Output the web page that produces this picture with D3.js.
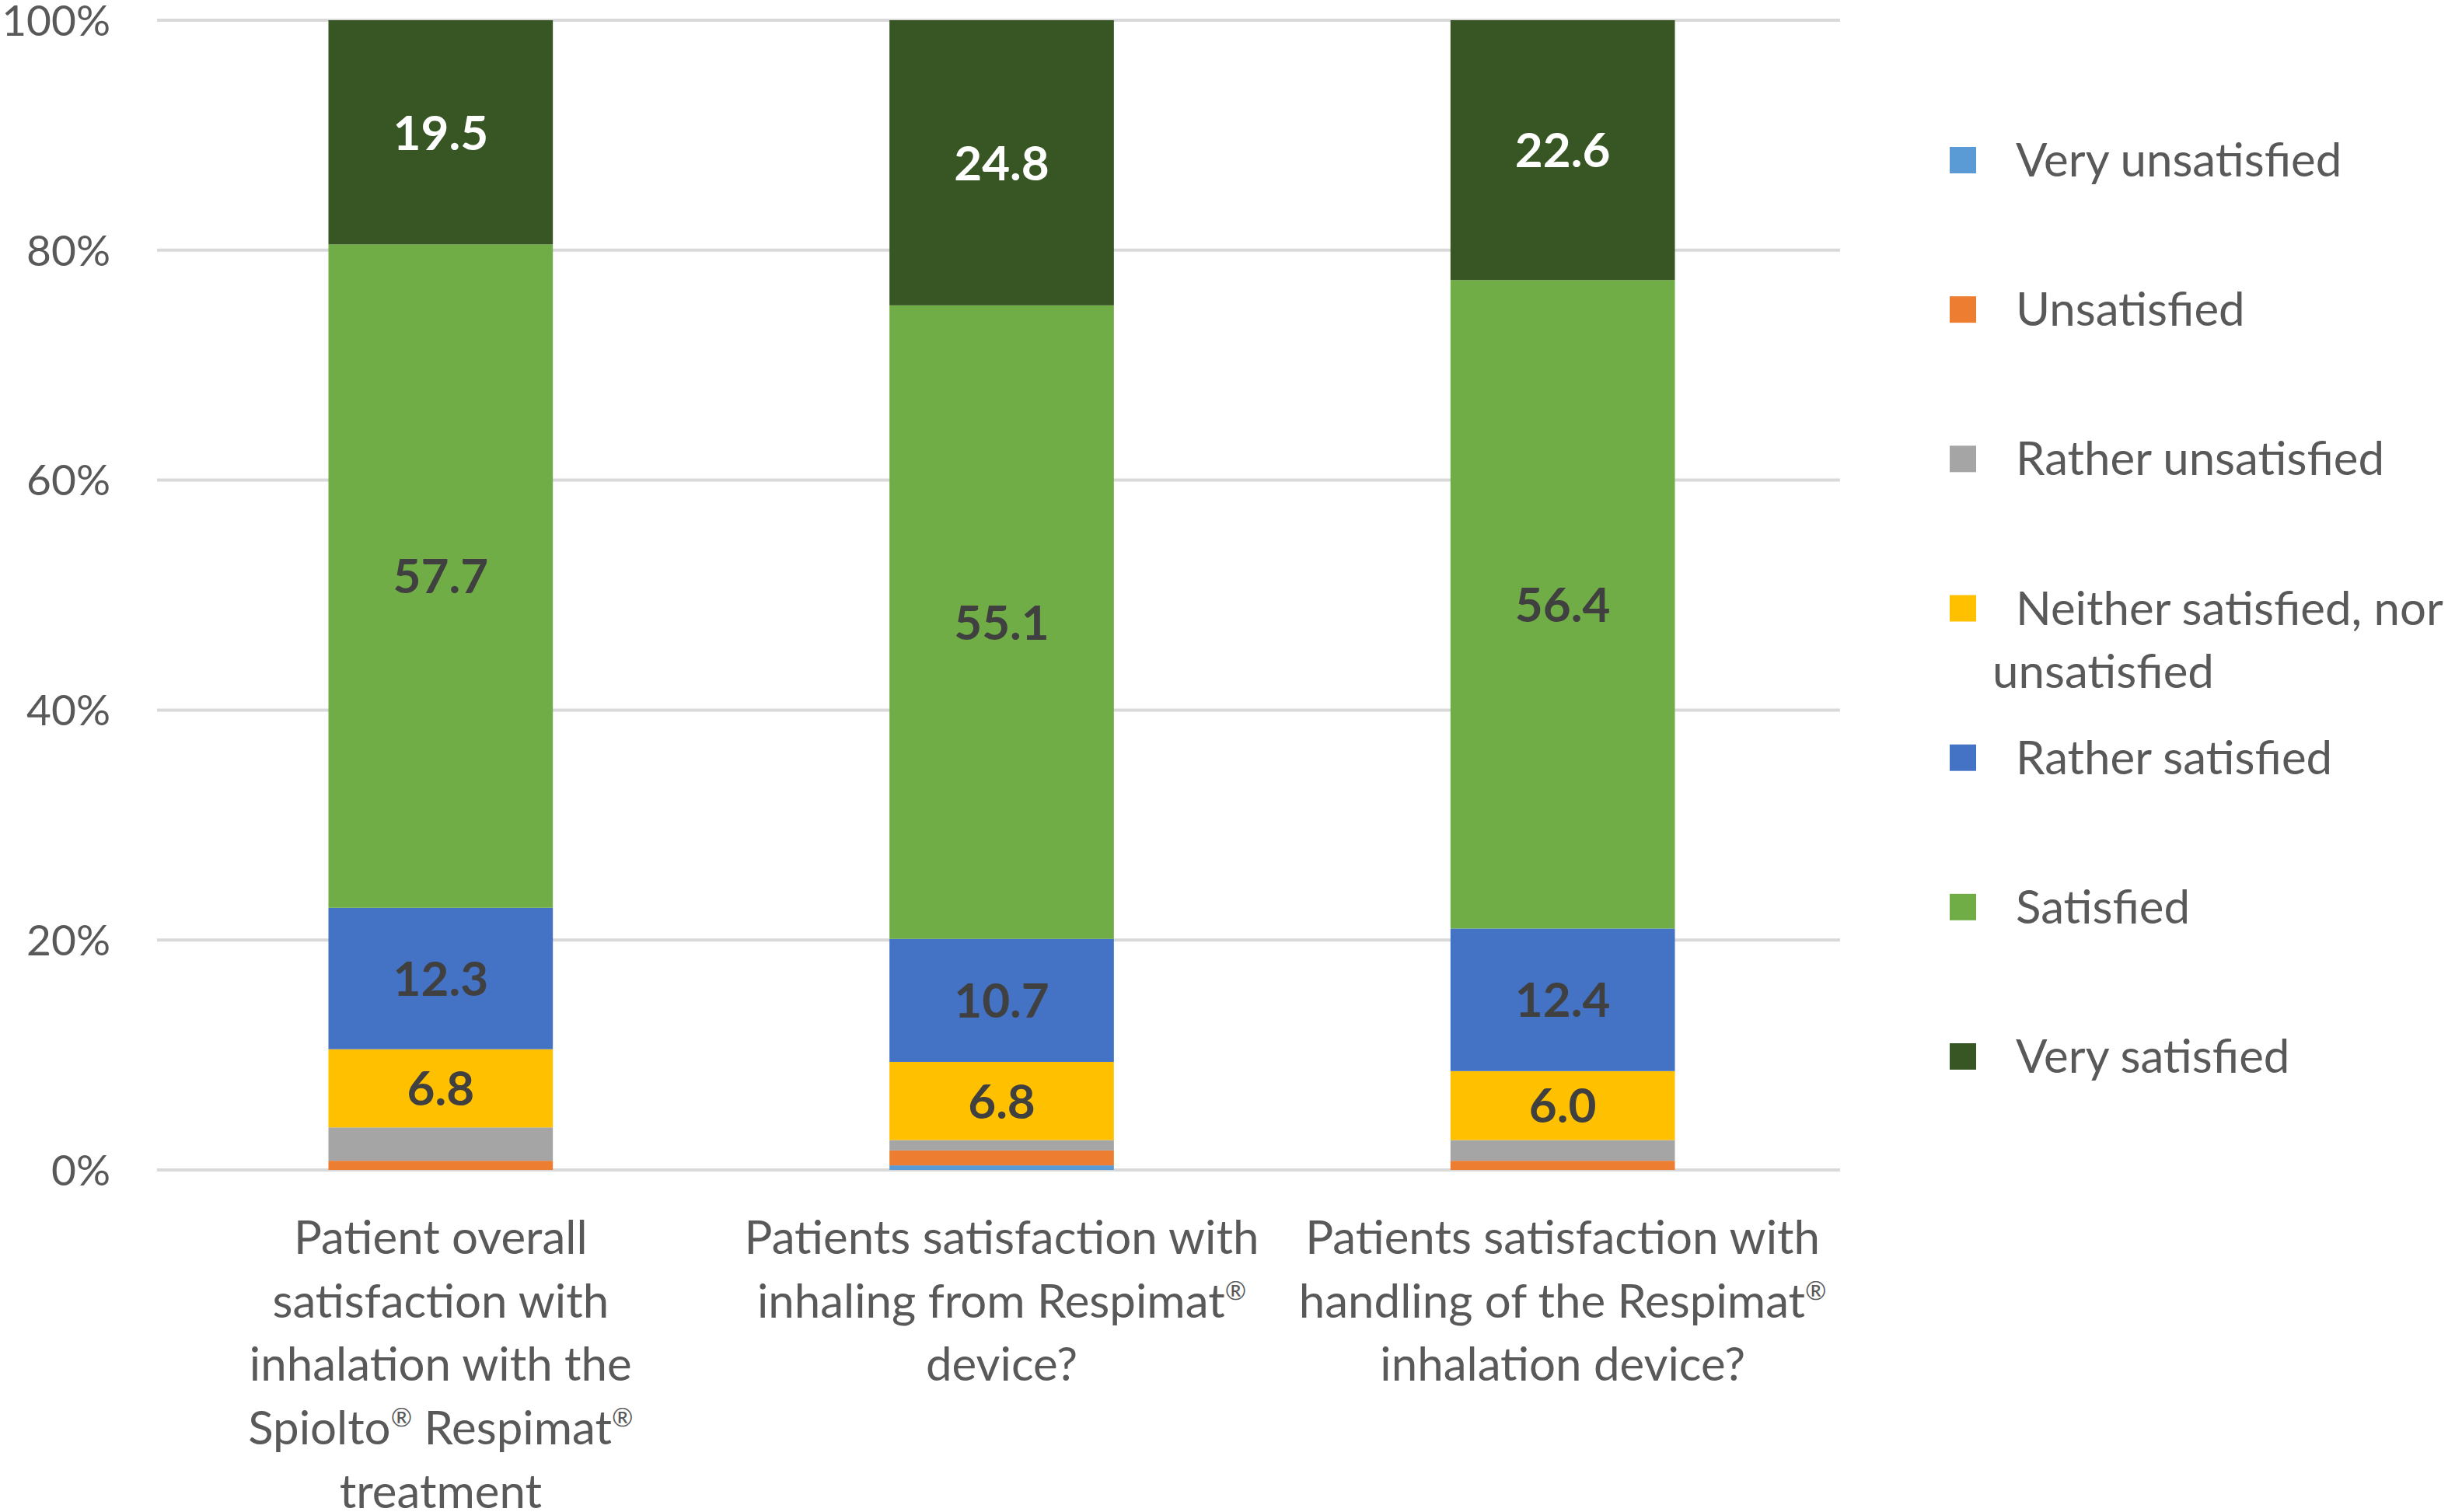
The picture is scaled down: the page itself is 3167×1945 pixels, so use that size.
<!DOCTYPE html>
<html>
<head>
<meta charset="utf-8">
<script src="https://cdn.jsdelivr.net/npm/d3@7"></script>
<style>
  html, body { margin: 0; padding: 0; background: #ffffff; overflow: hidden; }
  svg { display: block; }
</style>
</head>
<body>
<svg id="chart" width="3167" height="1945"></svg>
<script>
// ---------------- DATA ----------------
const categories = [
  "Patient overall satisfaction with inhalation with the Spiolto® Respimat® treatment",
  "Patients satisfaction with inhaling from Respimat® device?",
  "Patients satisfaction with handling of the Respimat® inhalation device?"
];
const categoryLines = [
  ["Patient overall", "satisfaction with", "inhalation with the", "Spiolto® Respimat®", "treatment"],
  ["Patients satisfaction with", "inhaling from Respimat®", "device?"],
  ["Patients satisfaction with", "handling of the Respimat®", "inhalation device?"]
];
const seriesNames = [
  "Very unsatisfied",
  "Unsatisfied",
  "Rather unsatisfied",
  "Neither satisfied, nor unsatisfied",
  "Rather satisfied",
  "Satisfied",
  "Very satisfied"
];
const veryUnsatisfied    = [0.0, 0.4, 0.0];
const unsatisfied        = [0.8, 1.3, 0.8];
const ratherUnsatisfied  = [2.9, 0.9, 1.8];
const neither            = [6.8, 6.8, 6.0];
const ratherSatisfied    = [12.3, 10.7, 12.4];
const satisfied          = [57.7, 55.1, 56.4];
const verySatisfied      = [19.5, 24.8, 22.6];
const seriesValues = [veryUnsatisfied, unsatisfied, ratherUnsatisfied, neither, ratherSatisfied, satisfied, verySatisfied];
const yTicks = [0, 20, 40, 60, 80, 100];
const labeledSeries = ["Neither satisfied, nor unsatisfied", "Rather satisfied", "Satisfied", "Very satisfied"];

// ---------------- STYLE ----------------
const colors = ["#5b9bd5", "#ed7d31", "#a5a5a5", "#ffc000", "#4472c4", "#70ad47", "#375623"];
const labelColors = {"Very satisfied": "#ffffff"};
const FONT = "Lato, 'Open Sans', sans-serif";
const textGray = "#595959";

const svg = d3.select("#chart");

// table for stack
const table = categories.map((c, i) => {
  const row = {category: c, idx: i};
  seriesNames.forEach((s, k) => row[s] = seriesValues[k][i]);
  return row;
});

const x = d3.scaleBand()
  .domain(categories)
  .range([206, 2371])
  .paddingInner(0.6)
  .paddingOuter(0.3);

const y = d3.scaleLinear().domain([0, 100]).range([1505, 26]);
const color = d3.scaleOrdinal().domain(seriesNames).range(colors);

// gridlines
const grid = svg.append("g").attr("class", "grid");
grid.selectAll("line").data(yTicks).join("line")
  .attr("x1", 202).attr("x2", 2367)
  .attr("y1", d => y(d)).attr("y2", d => y(d))
  .attr("stroke", "#d9d9d9").attr("stroke-width", 4);

// y axis labels
const yAxis = d3.axisLeft(y).tickValues(yTicks).tickFormat(d => d + "%").tickSize(0).tickPadding(0);
const yg = svg.append("g").attr("transform", "translate(142,0)").call(yAxis);
yg.select(".domain").remove();
yg.selectAll("text")
  .attr("font-family", FONT).attr("font-size", 55).attr("fill", textGray)
  .attr("dy", "0.35em");

// stacked bars
const stacked = d3.stack().keys(seriesNames)(table);

const layers = svg.append("g").selectAll("g").data(stacked).join("g")
  .attr("fill", d => color(d.key));
layers.selectAll("rect").data(d => d).join("rect")
  .attr("x", d => x(d.data.category))
  .attr("width", x.bandwidth())
  .attr("y", d => y(d[1]))
  .attr("height", d => Math.max(0, y(d[0]) - y(d[1])));

// data labels
const lab = svg.append("g");
stacked.filter(s => labeledSeries.includes(s.key)).forEach(s => {
  lab.selectAll(null).data(s).join("text")
    .attr("x", d => x(d.data.category) + x.bandwidth() / 2)
    .attr("y", d => y((d[0] + d[1]) / 2))
    .attr("dy", "0.36em")
    .attr("text-anchor", "middle")
    .attr("font-family", FONT).attr("font-weight", 700).attr("font-size", 62)
    .attr("fill", labelColors[s.key] || "#404040")
    .text(d => (d[1] - d[0]).toFixed(1));
});

// text with superscript ® marks
function addTextWithSup(sel, str, size) {
  const parts = str.split("®");
  const up = size * 0.38;
  let pendingDy = 0;
  parts.forEach((p, i) => {
    if (p.length) {
      const t = sel.append("tspan").text(p);
      if (pendingDy) { t.attr("dy", pendingDy); pendingDy = 0; }
    }
    if (i < parts.length - 1) {
      sel.append("tspan").attr("font-size", size * 0.55).attr("dy", -up).text("®");
      pendingDy = up;
    }
  });
}
const CAT_SIZE = 60;
const catG = svg.append("g");
categories.forEach((c, i) => {
  categoryLines[i].forEach((line, j) => {
    const t = catG.append("text")
      .attr("x", x(c) + x.bandwidth() / 2)
      .attr("y", 1592 + j * 81.7)
      .attr("dy", "0.35em")
      .attr("text-anchor", "middle")
      .attr("font-family", FONT).attr("font-size", CAT_SIZE).attr("fill", textGray);
    addTextWithSup(t, line, CAT_SIZE);
  });
});

// legend
const LEG_SIZE = 60;
const legendY = d3.scalePoint().domain(seriesNames).range([206, 1359]);
const leg = svg.append("g");
seriesNames.forEach((s, k) => {
  const cy = legendY(s);
  leg.append("rect").attr("x", 2508).attr("y", cy - 17).attr("width", 34).attr("height", 34)
    .attr("fill", color(s));
  if (s === "Neither satisfied, nor unsatisfied") {
    leg.append("text").attr("x", 2593).attr("y", cy).attr("dy", "0.35em")
      .attr("font-family", FONT).attr("font-size", LEG_SIZE).attr("fill", textGray)
      .text("Neither satisfied, nor");
    leg.append("text").attr("x", 2563).attr("y", cy + 81).attr("dy", "0.35em")
      .attr("font-family", FONT).attr("font-size", LEG_SIZE).attr("fill", textGray)
      .text("unsatisfied");
  } else {
    leg.append("text").attr("x", 2593).attr("y", cy).attr("dy", "0.35em")
      .attr("font-family", FONT).attr("font-size", LEG_SIZE).attr("fill", textGray)
      .text(s);
  }
});
</script>
</body>
</html>
